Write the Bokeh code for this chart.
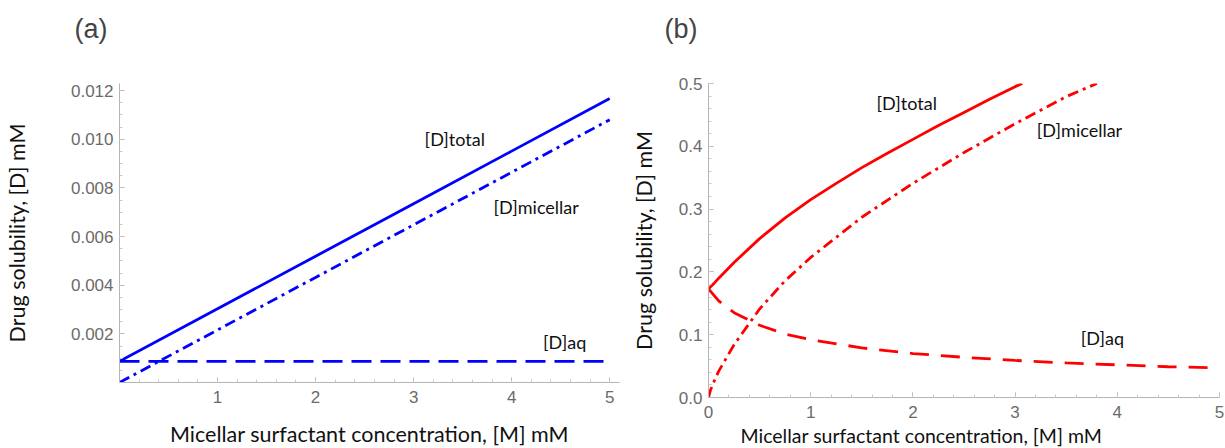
from bokeh.plotting import figure
from bokeh.models import FixedTicker, Label, PrintfTickFormatter, Range1d, Title
from bokeh.layouts import row
from bokeh.embed import file_html
from bokeh.resources import INLINE

# ---------------- data: panel (a) ----------------
a_conc = [0.0, 1.0, 2.0, 3.0, 4.0, 5.0]
a_total = [0.00087, 0.00303, 0.00519, 0.00735, 0.00951, 0.01167]
a_micellar = [0.0, 0.00216, 0.00432, 0.00648, 0.00864, 0.0108]
a_aq = [0.00087, 0.00087, 0.00087, 0.00087, 0.00087, 0.00087]
a_xticks = [1, 2, 3, 4, 5]
a_yticks = [0.002, 0.004, 0.006, 0.008, 0.010, 0.012]

# ---------------- data: panel (b) ----------------
b_conc_total = [0.0, 0.05, 0.1, 0.25, 0.5, 0.75, 1.0, 1.25, 1.5, 1.75, 2.0, 2.25, 2.5, 2.75, 3.0, 3.07]
b_total = [0.173, 0.181, 0.190, 0.215, 0.253, 0.286, 0.315, 0.341, 0.366, 0.389, 0.411, 0.433, 0.454, 0.475, 0.495, 0.500]
b_conc_mic = [0.0, 0.02, 0.05, 0.1, 0.25, 0.5, 0.75, 1.0, 1.5, 2.0, 2.5, 3.0, 3.5, 3.8]
b_micellar = [0.0, 0.012, 0.024, 0.042, 0.084, 0.141, 0.186, 0.223, 0.287, 0.341, 0.390, 0.436, 0.479, 0.500]
b_conc_aq = [0.0, 0.1, 0.25, 0.5, 0.75, 1.0, 1.5, 2.0, 2.5, 3.0, 3.5, 4.0, 4.5, 5.0]
b_aq = [0.173, 0.154, 0.135, 0.115, 0.101, 0.092, 0.079, 0.070, 0.064, 0.059, 0.055, 0.052, 0.049, 0.047]
b_xticks = [0, 1, 2, 3, 4, 5]
b_yticks = [0.0, 0.1, 0.2, 0.3, 0.4, 0.5]

XTITLE = "Micellar surfactant concentration, [M] mM"
YTITLE = "Drug solubility, [D] mM"
AXIS_COL = "#b4b4b4"
TICKLAB_COL = "#6b6b6b"
TITLE_FONT = "Lato"


def style_axes(p):
    for ax in list(p.xaxis) + list(p.yaxis):
        ax.axis_line_color = AXIS_COL
        ax.axis_line_width = 1
        ax.major_tick_line_color = AXIS_COL
        ax.minor_tick_line_color = "#c8c8c8"
        ax.major_tick_in = 5
        ax.major_tick_out = 0
        ax.minor_tick_in = 3
        ax.minor_tick_out = 0
        ax.major_label_text_color = TICKLAB_COL
        ax.major_label_text_font = "Liberation Sans"
        ax.major_label_text_font_size = "17px"
        ax.axis_label_text_font = TITLE_FONT
        ax.axis_label_text_font_size = "21.5px"
        ax.axis_label_text_font_style = "normal"
        ax.axis_label_text_color = "#111111"
    p.xgrid.visible = False
    p.ygrid.visible = False
    p.outline_line_color = None
    p.background_fill_color = "white"
    p.border_fill_color = "white"


def style_panel_title(p, offset, line_height):
    # panel tag "(a)" / "(b)" sits well above the plot area; a blank second
    # line lifts it within the top border
    p.title.align = "left"
    p.title.vertical_align = "top"
    p.title.offset = offset
    p.title.standoff = 0
    p.title.text_line_height = line_height
    p.title.text_font = "Liberation Sans"
    p.title.text_font_size = "27px"
    p.title.text_font_style = "normal"
    p.title.text_color = "#444444"


def minor(start, stop, step):
    out = []
    v = start
    while v <= stop + 1e-12:
        out.append(round(v, 6))
        v += step
    return out


lab_kw = dict(text_font=TITLE_FONT, text_font_size="18px", text_color="#111111",
              text_align="center", text_baseline="middle")

# ================= panel (a) =================
pa = figure(output_backend="svg", toolbar_location=None, title="(a)\n",
            frame_width=500, frame_height=299,
            min_border_left=117, min_border_right=3,
            min_border_top=83, min_border_bottom=66,
            x_range=Range1d(0, 5.1), y_range=Range1d(0, 0.01229))
style_axes(pa)
style_panel_title(pa, -45, 1.25)
pa.xaxis.ticker = FixedTicker(ticks=a_xticks, minor_ticks=minor(0.2, 5.0, 0.2))
pa.yaxis.ticker = FixedTicker(ticks=a_yticks, minor_ticks=minor(0.0005, 0.012, 0.0005))
pa.xaxis.formatter = PrintfTickFormatter(format="%d")
pa.yaxis.formatter = PrintfTickFormatter(format="%.3f")
pa.xaxis.major_label_standoff = 8
pa.yaxis.major_label_standoff = 6
pa.xaxis.axis_label = XTITLE
pa.yaxis.axis_label = YTITLE
pa.xaxis.axis_label_standoff = 15
pa.yaxis.axis_label_standoff = 38

blue = "#0000ff"
pa.line(a_conc, a_total, line_color=blue, line_width=2.8)
pa.line(a_conc, a_micellar, line_color=blue, line_width=2.8, line_dash="11 5 3 5")
pa.line(a_conc, a_aq, line_color=blue, line_width=2.8, line_dash="20 9")

pa.add_layout(Label(x=3.42, y=0.00999, text="[D]total", **lab_kw))
pa.add_layout(Label(x=4.25, y=0.00723, text="[D]micellar", **lab_kw))
pa.add_layout(Label(x=4.54, y=0.001675, text="[D]aq", **lab_kw))

# ================= panel (b) =================
pb = figure(output_backend="svg", toolbar_location=None, title="(b)\n",
            frame_width=511, frame_height=314,
            min_border_left=86, min_border_right=8,
            min_border_top=72, min_border_bottom=62,
            x_range=Range1d(0, 5), y_range=Range1d(0, 0.5))
style_axes(pb)
style_panel_title(pb, -44, 1.25)
pb.xaxis.ticker = FixedTicker(ticks=b_xticks, minor_ticks=minor(0.2, 5.0, 0.2))
pb.yaxis.ticker = FixedTicker(ticks=b_yticks, minor_ticks=minor(0.02, 0.5, 0.02))
pb.xaxis.formatter = PrintfTickFormatter(format="%d")
pb.yaxis.formatter = PrintfTickFormatter(format="%.1f")
pb.xaxis.major_label_standoff = 8
pb.yaxis.major_label_standoff = 6
pb.yaxis.axis_label = YTITLE
pb.yaxis.axis_label_standoff = 19

red = "#ff0000"
pb.line(b_conc_total, b_total, line_color=red, line_width=2.8)
pb.line(b_conc_mic, b_micellar, line_color=red, line_width=2.8, line_dash="11 5 3 5")
pb.line(b_conc_aq, b_aq, line_color=red, line_width=2.8, line_dash="19 12")

pb.add_layout(Label(x=1.94, y=0.469, text="[D]total", **lab_kw))
pb.add_layout(Label(x=3.63, y=0.426, text="[D]micellar", **lab_kw))
pb.add_layout(Label(x=3.855, y=0.094, text="[D]aq", **lab_kw))
pb.add_layout(Title(text=XTITLE, align="left", vertical_align="top", offset=32, standoff=6,
                    text_font=TITLE_FONT, text_font_size="19.5px",
                    text_font_style="normal", text_color="#111111"), "below")

layout = row(pa, pb)
open("out.html", "w").write(file_html(layout, INLINE))
